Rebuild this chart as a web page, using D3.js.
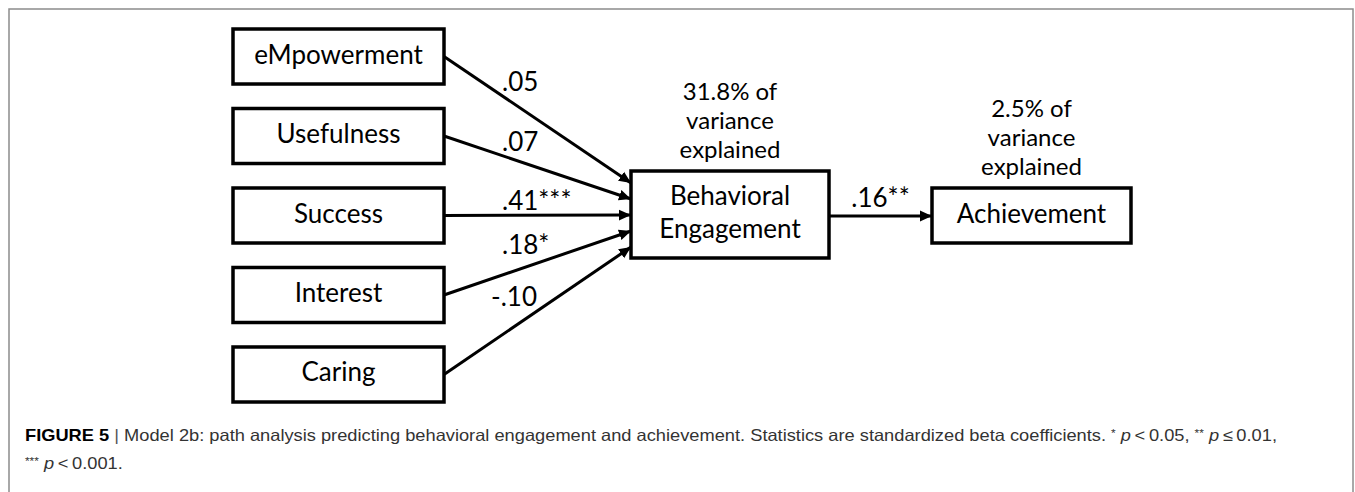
<!DOCTYPE html>
<html>
<head>
<meta charset="utf-8">
<script src="https://cdn.jsdelivr.net/npm/d3@7"></script>
<style>
  body { margin: 0; background: #fff; }
  svg { display: block; }
</style>
</head>
<body>
<script>
  const predictors = ["eMpowerment", "Usefulness", "Success", "Interest", "Caring"];
  const predictorBetas = [".05", ".07", ".41***", ".18*", "-.10"];
  const outcomes = ["Behavioral Engagement", "Achievement"];
  const varianceExplained = ["31.8%", "2.5%"];
  const outcomeBeta = ".16**";

  const width = 1355, height = 492;
  const diagramFont = "Lato, 'Open Sans', sans-serif";

  const svg = d3.select("body")
    .append("svg")
    .attr("width", width)
    .attr("height", height);

  // outer figure frame (bottom runs off the page)
  svg.append("rect")
    .attr("x", 9)
    .attr("y", 9)
    .attr("width", 1344)
    .attr("height", 520)
    .attr("fill", "none")
    .attr("stroke", "#8c8c8c")
    .attr("stroke-width", 1.5);

  // arrow head
  svg.append("defs")
    .append("marker")
    .attr("id", "arrow")
    .attr("viewBox", "0 0 10 10")
    .attr("refX", 10)
    .attr("refY", 5)
    .attr("markerUnits", "userSpaceOnUse")
    .attr("markerWidth", 12)
    .attr("markerHeight", 12)
    .attr("orient", "auto")
    .append("path")
    .attr("d", "M0,0.5 L10,5 L0,9.5 Z")
    .attr("fill", "#000");

  // layout of the three columns
  let predCol = { x: 233, w: 211 };
  let engageBox = { x: 631, y: 171, w: 198, h: 87 };
  let achieveBox = { x: 932, y: 188, w: 199, h: 55 };
  let outcomeBoxes = [engageBox, achieveBox];

  let yBox = d3.scaleBand()
    .domain(predictors)
    .range([29, 402])
    .paddingInner(0.308);

  // where each path meets the engagement box
  let yTip = d3.scalePoint()
    .domain(predictors)
    .range([183, 247]);

  let paths = predictors.map((p, i) => ({
    name: p,
    beta: predictorBetas[i],
    x0: predCol.x + predCol.w,
    y0: yBox(p) + yBox.bandwidth() / 2,
    x1: engageBox.x,
    y1: yTip(p)
  }));

  // paths from predictors
  svg.selectAll(".path")
    .data(paths)
    .enter()
    .append("line")
    .attr("class", "path")
    .attr("x1", d => d.x0)
    .attr("y1", d => d.y0)
    .attr("x2", d => d.x1)
    .attr("y2", d => d.y1)
    .attr("stroke", "#000")
    .attr("stroke-width", 3)
    .attr("marker-end", "url(#arrow)");

  // beta labels sit just above their path
  svg.selectAll(".beta")
    .data(paths)
    .enter()
    .append("text")
    .attr("class", "beta")
    .style("font-family", diagramFont)
    .style("font-size", "26px")
    .attr("x", d => d.beta[0] == "-" ? 491 : 502)
    .text(d => d.beta)
    .attr("y", function(d) {
      let slope = (d.y1 - d.y0) / (d.x1 - d.x0);
      let x = +d3.select(this).attr("x");
      let cx = slope < -0.01 ? x + this.getComputedTextLength() : x;
      return d.y0 + slope * (cx - d.x0) - 5;
    });

  // predictor boxes
  let pred = svg.selectAll(".pred")
    .data(predictors)
    .enter()
    .append("g")
    .attr("class", "pred");

  pred.append("rect")
    .attr("x", predCol.x)
    .attr("y", d => yBox(d))
    .attr("width", predCol.w)
    .attr("height", yBox.bandwidth())
    .attr("fill", "#fff")
    .attr("stroke", "#000")
    .attr("stroke-width", 3.5);

  pred.append("text")
    .attr("x", predCol.x + predCol.w / 2)
    .attr("y", d => yBox(d) + yBox.bandwidth() / 2 + 7)
    .attr("text-anchor", "middle")
    .style("font-family", diagramFont)
    .style("font-size", "26px")
    .text(d => d);

  // engagement -> achievement path
  svg.append("line")
    .attr("x1", engageBox.x + engageBox.w)
    .attr("y1", 216)
    .attr("x2", achieveBox.x)
    .attr("y2", 216)
    .attr("stroke", "#000")
    .attr("stroke-width", 3)
    .attr("marker-end", "url(#arrow)");

  svg.append("text")
    .attr("x", (engageBox.x + engageBox.w + achieveBox.x) / 2)
    .attr("y", 207)
    .attr("text-anchor", "middle")
    .style("font-family", diagramFont)
    .style("font-size", "26px")
    .text(outcomeBeta);

  // outcome boxes with variance explained above
  outcomes.forEach((o, i) => {
    let b = outcomeBoxes[i];
    let cx = b.x + b.w / 2, cy = b.y + b.h / 2;

    svg.append("rect")
      .attr("x", b.x)
      .attr("y", b.y)
      .attr("width", b.w)
      .attr("height", b.h)
      .attr("fill", "#fff")
      .attr("stroke", "#000")
      .attr("stroke-width", 3.5);

    let words = o.split(" ");
    svg.append("text")
      .attr("text-anchor", "middle")
      .style("font-family", diagramFont)
      .style("font-size", "26px")
      .selectAll("tspan")
      .data(words)
      .enter()
      .append("tspan")
      .attr("x", cx)
      .attr("y", (d, k) => cy - (words.length - 1) * 33 / 2 + k * 33 + 7)
      .text(d => d);

    let note = [varianceExplained[i] + " of", "variance", "explained"];
    svg.append("text")
      .attr("text-anchor", "middle")
      .style("font-family", diagramFont)
      .style("font-size", "24px")
      .selectAll("tspan")
      .data(note)
      .enter()
      .append("tspan")
      .attr("x", cx)
      .attr("y", (d, k) => b.y - 13 - 29 * (note.length - 1 - k))
      .text(d => d);
  });

  // caption
  let capFont = "'Liberation Sans', Arial, Helvetica, sans-serif";
  let capSize = 16.5;
  let thin = "\u2009";

  let cap1 = svg.append("text")
    .attr("x", 25)
    .attr("y", 441)
    .style("font-family", capFont)
    .style("font-size", capSize + "px")
    .attr("fill", "#333");

  cap1.append("tspan").style("font-weight", "bold").attr("fill", "#000").text("FIGURE 5");
  cap1.append("tspan").attr("fill", "#555").text("  |  ");
  cap1.append("tspan").text("Model 2b: path analysis predicting behavioral engagement and achievement. Statistics are standardized beta coefficients. ");
  cap1.append("tspan").attr("class", "sup").text("*");
  cap1.append("tspan").attr("class", "base").style("font-style", "italic").text(" p");
  cap1.append("tspan").text(thin + "<" + thin + "0.05, ");
  cap1.append("tspan").attr("class", "sup").text("**");
  cap1.append("tspan").attr("class", "base").style("font-style", "italic").text(" p");
  cap1.append("tspan").text(thin + "≤" + thin + "0.01,");

  let cap2 = svg.append("text")
    .attr("x", 25)
    .attr("y", 469)
    .style("font-family", capFont)
    .style("font-size", capSize + "px")
    .attr("fill", "#333");

  cap2.append("tspan").attr("class", "sup").text("***");
  cap2.append("tspan").attr("class", "base").style("font-style", "italic").text(" p");
  cap2.append("tspan").text(thin + "<" + thin + "0.001.");

  svg.selectAll(".sup")
    .style("font-size", (capSize * 0.65) + "px")
    .attr("dy", -4);
  svg.selectAll(".base").attr("dy", 4);

  // squeeze the caption to the measured line length
  let ratio = 1252 / cap1.node().getComputedTextLength();
  cap1.attr("textLength", 1252).attr("lengthAdjust", "spacingAndGlyphs");
  cap2.attr("textLength", cap2.node().getComputedTextLength() * ratio)
    .attr("lengthAdjust", "spacingAndGlyphs");
</script>
</body>
</html>
